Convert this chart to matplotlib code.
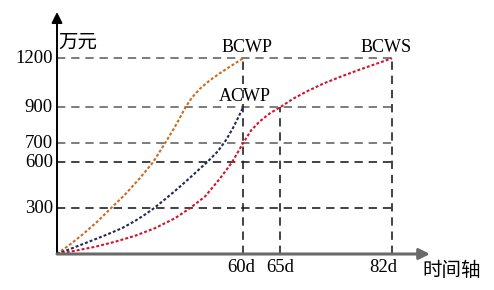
import numpy as np
import matplotlib
matplotlib.use("Agg")
import matplotlib.pyplot as plt

plt.rcParams['font.family'] = ['Liberation Serif', 'Noto Sans CJK SC']

# y levels (万元) and day marks
y_levels = [1200, 900, 700, 600, 300]
y_labels = ['1200', '900', '700', '600', '300']
day_ticks = [60, 65, 82]
day_labels = ['60d', '65d', '82d']
day_tops = [1200, 900, 1200]

# curves (day, 万元)
bcwp_d = [0, 4.19, 8.39, 12.9, 17.42, 21.94, 26.45, 30.97, 34.84, 38.06, 41.45,
          43.55, 46.13, 49.35, 52.58, 55.81, 60]
bcwp_v = [0, 62, 130, 210, 300, 389, 490, 600, 700, 792, 900,
          960, 1014, 1066, 1109, 1149, 1200]
acwp_d = [0, 3.65, 7.97, 12.26, 16.55, 20.87, 25.16, 28.39, 30.97, 34.84, 38.71, 42.58,
          46.45, 48.39, 51.94, 54.52, 56.77, 58.71, 60]
acwp_v = [0, 28, 62, 96, 131, 168, 216, 258, 295, 358, 424, 493,
          565, 600, 659, 718, 785, 852, 900]
bcws_d = [0, 5.81, 12.26, 18.71, 25.16, 31.61, 38.06, 42.9, 47.74, 52.58, 56.45, 60,
          61.08, 62.3, 63.65, 65, 67.02, 69.05, 71.57, 74.11, 76.64, 79.16, 82]
bcws_v = [0, 21, 47, 80, 119, 169, 234, 300, 376, 494, 600, 700,
          771, 823, 867, 900, 953, 997, 1045, 1086, 1124, 1160, 1200]

# the drawing is schematic: piecewise scales
XK_D = np.array([0, 60, 65, 82, 100.0])
XK_P = np.array([0, 186, 223, 335, 454.0])
YK_V = np.array([0, 600, 700, 900, 1200, 1500.0])
YK_P = np.array([0, 91.7, 110.7, 146.7, 195.7, 244.1])

def xf(d): return np.interp(d, XK_D, XK_P)
def xi(p): return np.interp(p, XK_P, XK_D)
def yf(v): return np.interp(v, YK_V, YK_P)
def yi(p): return np.interp(p, YK_P, YK_V)

W, H = 494, 290
fig = plt.figure(figsize=(W/100, H/100), dpi=100)
ax = fig.add_axes([57/W, 36/H, (430-57)/W, (254-12)/H])
ax.set_xscale('function', functions=(xf, xi))
ax.set_yscale('function', functions=(yf, yi))
ax.set_xlim(0, float(xi(373)))
ax.set_ylim(0, float(yi(242)))
for s in ax.spines.values():
    s.set_visible(False)
ax.set_xticks([]); ax.set_yticks([])
ax.minorticks_off()

# guide lines
light = {1200: '#666666', 900: '#666666', 700: '#666666', 600: '#222222', 300: '#222222'}
for v in y_levels:
    ax.plot([0, 82], [v, v], color=light[v], lw=1.2, ls=(0, (5, 3.5)), zorder=1)
for d, top in zip(day_ticks, day_tops):
    ax.plot([d, d], [0, top], color='#222222', lw=1.2, ls=(0, (5, 3.5)), zorder=1)

# curves
dot = (0, (1.4, 1.0))
ax.plot(bcwp_d, bcwp_v, color='#CC6A1E', lw=1.5, ls=dot, zorder=3)
ax.plot(acwp_d, acwp_v, color='#1E2A5E', lw=1.5, ls=dot, zorder=3)
ax.plot(bcws_d, bcws_v, color='#D4122C', lw=1.5, ls=dot, zorder=3)

# axes arrows
ax.annotate('', xy=(0, 1), xytext=(0, 0), xycoords='axes fraction',
            arrowprops=dict(arrowstyle='-|>', color='black', lw=1.4, mutation_scale=16, shrinkA=0, shrinkB=0), zorder=4)
ax.annotate('', xy=(1, 0), xytext=(0, 0), xycoords='axes fraction',
            arrowprops=dict(arrowstyle='-|>', color='#6a6a6a', lw=2.2, mutation_scale=16, shrinkA=0, shrinkB=0), zorder=4)

# labels
fs = 13.5
for v, lab in zip(y_levels, y_labels):
    ax.annotate(lab, (0, v), xytext=(-3, 0), textcoords='offset points', ha='right', va='center', fontsize=fs)
for d, lab, dx in zip(day_ticks, day_labels, [-1, 0, -6]):
    ax.annotate(lab, (d, 0), xytext=(dx, -10), textcoords='offset points', ha='center', va='center', fontsize=fs)
ax.annotate('BCWP', (60, 1200), xytext=(3, 8), textcoords='offset points', ha='center', va='center', fontsize=fs - 0.5)
ax.annotate('BCWS', (82, 1200), xytext=(-4, 8), textcoords='offset points', ha='center', va='center', fontsize=fs - 0.5)
ax.annotate('ACWP', (60, 900), xytext=(1, 8), textcoords='offset points', ha='center', va='center', fontsize=fs - 0.5)
fig.text(58/W, 1 - 42/H, '万元', ha='left', va='center', fontsize=14, family=['Noto Sans CJK SC'], weight='light')
fig.text(452/W, 1 - 271/H, '时间轴', ha='center', va='center', fontsize=14, family=['Noto Sans CJK SC'], weight='light')

fig.savefig('out.png', dpi=100)
